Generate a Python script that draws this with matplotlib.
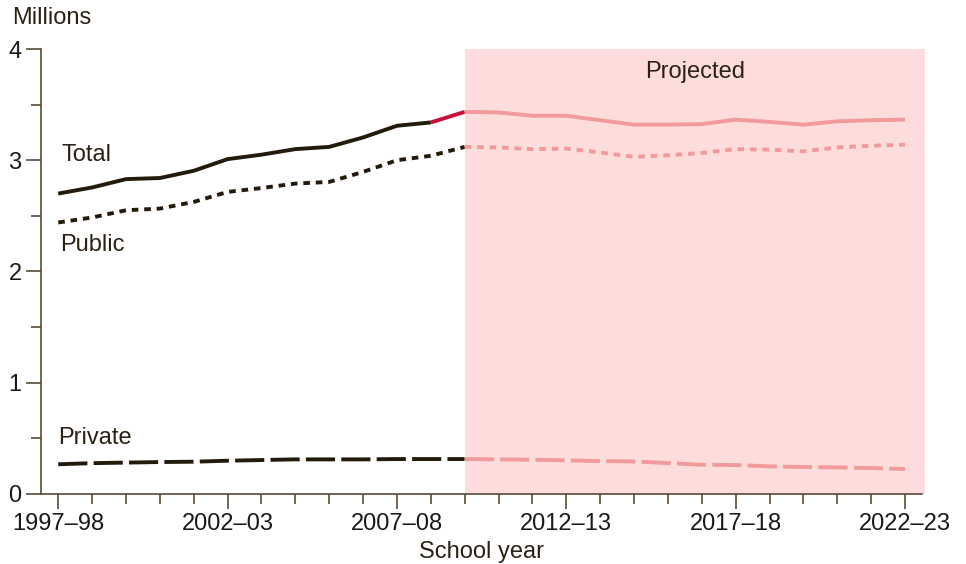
import numpy as np
import matplotlib.pyplot as plt
from matplotlib.ticker import MultipleLocator, FixedLocator

plt.rcParams['font.family'] = ['Liberation Sans', 'DejaVu Sans']

# School years, labelled by first calendar year (1997 -> 1997-98)
years = list(range(1997, 2023))
tick_years = [1997, 2002, 2007, 2012, 2017, 2022]
tick_labels = ["1997\u201398", "2002\u201303", "2007\u201308",
               "2012\u201313", "2017\u201318", "2022\u201323"]

# enrollment in millions
total = [2.70, 2.755, 2.83, 2.84, 2.905, 3.01, 3.05, 3.10, 3.12, 3.205,
         3.31, 3.34, 3.435, 3.43, 3.40, 3.40, 3.36, 3.32, 3.32, 3.325,
         3.365, 3.345, 3.32, 3.35, 3.36, 3.365]
public = [2.44, 2.485, 2.55, 2.565, 2.625, 2.715, 2.75, 2.79, 2.805, 2.895,
          3.00, 3.04, 3.12, 3.115, 3.10, 3.105, 3.07, 3.03, 3.045, 3.065,
          3.10, 3.095, 3.08, 3.115, 3.13, 3.14]
private = [0.265, 0.275, 0.28, 0.285, 0.288, 0.297, 0.303, 0.309, 0.309, 0.309,
           0.312, 0.312, 0.312, 0.309, 0.306, 0.30, 0.294, 0.29, 0.276, 0.261,
           0.258, 0.246, 0.24, 0.237, 0.231, 0.222]

proj_start = 2009      # first projected year
last_actual = 2008

dark = "#241a0c"
crimson = "#c8103a"
pink = "#f09a9c"
shade = "#fddcdc"
axis_col = "#5a4a38"

df_years = np.array(years)
i0 = years.index(proj_start)
i8 = years.index(last_actual)

fig = plt.figure(figsize=(9.66, 5.64), dpi=100)
ax = fig.add_axes([0.0424, 0.1246, 0.912, 0.7884])

ax.axvspan(proj_start, 2022.6, color=shade, lw=0, zorder=0, clip_on=False)

lw = 2.8
# Total
ax.plot(df_years[:i8 + 1], total[:i8 + 1], color=dark, lw=lw, solid_capstyle="butt", zorder=3)
ax.plot(df_years[i8:i0 + 1], total[i8:i0 + 1], color=crimson, lw=lw, solid_capstyle="butt", zorder=3)
ax.plot(df_years[i0:], total[i0:], color=pink, lw=lw, solid_capstyle="butt", zorder=3)

# Public
ax.plot(df_years[:i0 + 1], public[:i0 + 1], color=dark, lw=lw, dashes=(1.7, 1.5), zorder=3)
ax.plot(df_years[i0:], public[i0:], color=pink, lw=lw, dashes=(1.7, 1.5), zorder=3)

# Private
ax.plot(df_years[:i0 + 1], private[:i0 + 1], color=dark, lw=lw, dashes=(7.5, 1.6), zorder=3)
ax.plot(df_years[i0:], private[i0:], color=pink, lw=lw, dashes=(7.5, 1.6), zorder=3)

ax.set_xlim(1996.49, 2022.5)
ax.set_ylim(0, 4)

for s in ["top", "right"]:
    ax.spines[s].set_visible(False)
for s in ["left", "bottom"]:
    ax.spines[s].set_color(axis_col)
    ax.spines[s].set_linewidth(1.2)

ax.xaxis.set_major_locator(FixedLocator(tick_years))
ax.set_xticklabels(tick_labels)
ax.xaxis.set_minor_locator(MultipleLocator(1))
ax.yaxis.set_major_locator(MultipleLocator(1))
ax.yaxis.set_minor_locator(MultipleLocator(0.5))

fs = 17
ax.tick_params(axis="both", which="major", length=11, width=1.2, color=axis_col,
               labelsize=fs, labelcolor="#1a1a1a", direction="out")
ax.tick_params(axis="both", which="minor", length=7, width=1.2, color=axis_col, direction="out")
ax.tick_params(axis="y", which="major", pad=3)
ax.tick_params(axis="x", which="major", pad=3)

ax.set_xlabel("School year", fontsize=fs, color="#2b2114", labelpad=4)

fig.text(12 / 966, 1 - 18 / 564, "Millions", fontsize=fs, color="#2b2114",
         ha="left", va="center")

txt = dict(fontsize=fs, color="#2b2114", ha="left", va="center")
ax.text(1997.1, 3.05, "Total", **txt)
ax.text(1997.05, 2.24, "Public", **txt)
ax.text(1997.0, 0.5, "Private", **txt)
ax.text((proj_start + 2022.6) / 2, 3.79, "Projected", fontsize=fs, color="#2b2114",
        ha="center", va="center")

fig.savefig("out.png", dpi=100)
